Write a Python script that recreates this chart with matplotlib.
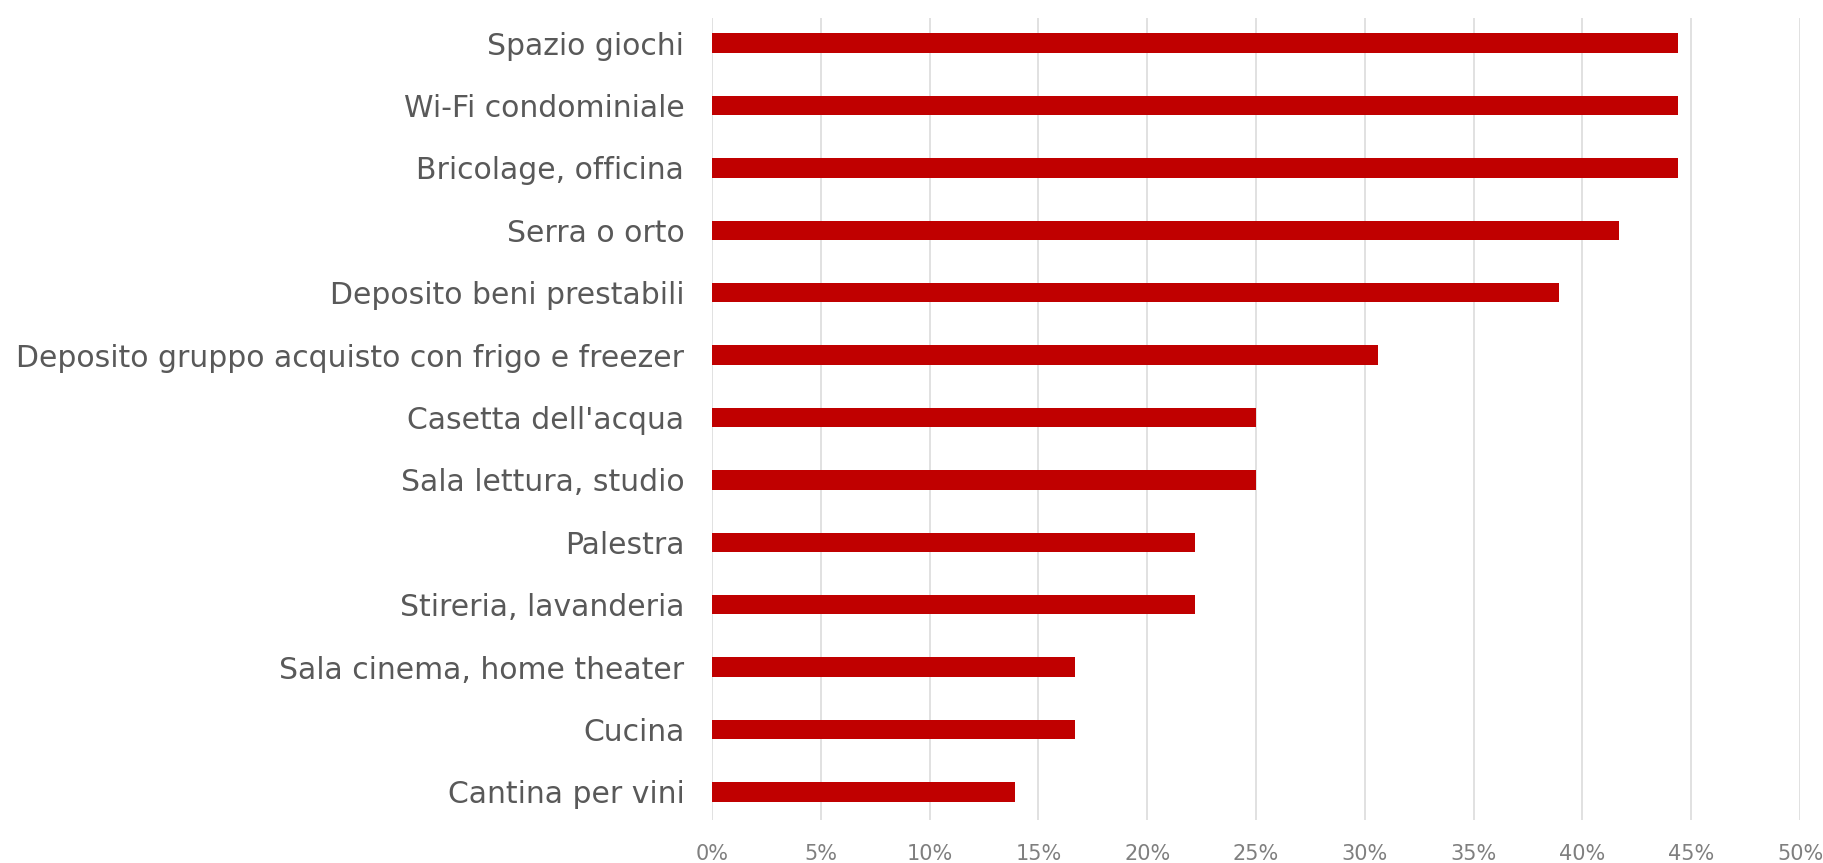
import matplotlib
matplotlib.use("Agg")
import matplotlib.pyplot as plt
from matplotlib.ticker import PercentFormatter

categories = [
    "Spazio giochi",
    "Wi-Fi condominiale",
    "Bricolage, officina",
    "Serra o orto",
    "Deposito beni prestabili",
    "Deposito gruppo acquisto con frigo e freezer",
    "Casetta dell'acqua",
    "Sala lettura, studio",
    "Palestra",
    "Stireria, lavanderia",
    "Sala cinema, home theater",
    "Cucina",
    "Cantina per vini",
]
values = [44.4, 44.4, 44.4, 41.7, 38.9, 30.6, 25.0, 25.0, 22.2, 22.2, 16.7, 16.7, 13.9]
xticks = [0, 5, 10, 15, 20, 25, 30, 35, 40, 45, 50]

plt.rcParams['font.family'] = ['DejaVu Sans']

fig = plt.figure(figsize=(18.23, 8.63), dpi=100)
ax = fig.add_axes([0.3906, 0.0498, 0.9874 - 0.3906, 0.979 - 0.0498])

ypos = list(range(len(categories)))
ax.barh(ypos, values, height=0.31, color="#c00000", zorder=3)

ax.set_xlim(0, 50)
ax.set_ylim(12.45, -0.4)
ax.set_xticks(xticks)
ax.xaxis.set_major_formatter(PercentFormatter(decimals=0))
ax.set_yticks(ypos)
ax.set_yticklabels(categories, fontsize=21.5, color="#595959")
ax.tick_params(axis="x", labelsize=15, labelcolor="#7f7f7f", length=0, pad=17)
ax.tick_params(axis="y", length=0, pad=20)

ax.grid(axis="x", color="#d9d9d9", linewidth=1.1, zorder=0)
for s in ax.spines.values():
    s.set_visible(False)

fig.savefig("out.png", dpi=100)
